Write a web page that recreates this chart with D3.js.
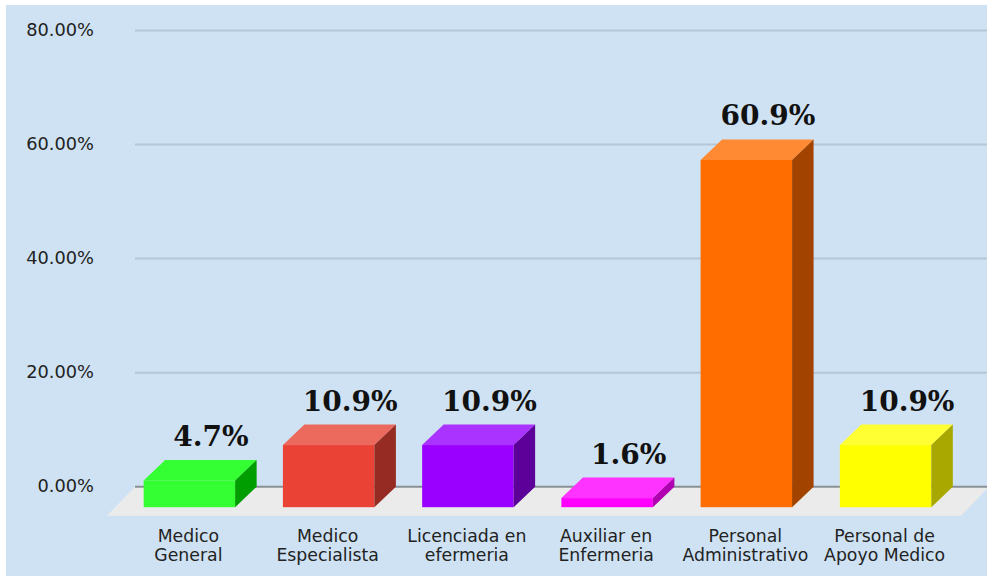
<!DOCTYPE html>
<html>
<head>
<meta charset="utf-8">
<script src="https://cdn.jsdelivr.net/npm/d3@7"></script>
<style>
  html, body { margin: 0; padding: 0; background: #ffffff; }
  svg { display: block; }
</style>
</head>
<body>
<svg id="chart" width="987" height="576"></svg>
<script>
// ---- data ----
const categories = ["Medico General", "Medico Especialista", "Licenciada en efermeria",
                    "Auxiliar en Enfermeria", "Personal Administrativo", "Personal de Apoyo Medico"];
const categoryLines = [["Medico", "General"], ["Medico", "Especialista"], ["Licenciada en", "efermeria"],
                       ["Auxiliar en", "Enfermeria"], ["Personal", "Administrativo"], ["Personal de", "Apoyo Medico"]];
const values = [4.7, 10.9, 10.9, 1.6, 60.9, 10.9];
const valueLabels = ["4.7%", "10.9%", "10.9%", "1.6%", "60.9%", "10.9%"];
const yTicks = [0, 20, 40, 60, 80];
const barColors = ["#33ff33", "#ea4335", "#9900ff", "#ff00ff", "#ff6d00", "#ffff00"];
const topColors = ["#33ff33", "#ec6a5d", "#aa33ff", "#ff33ff", "#ff8a33", "#ffff33"];
const sideColors = ["#009e00", "#952b23", "#5c0099", "#b000b0", "#a34300", "#a8a800"];

// ---- layout ----
const W = 987, H = 576;
const depthX = 21.5, depthY = 20.5;   // bar 3D offset (front is down-left of back)
const svg = d3.select("#chart");

const y = d3.scaleLinear().domain([0, 80]).range([486.7, 30.5]); // back plane
const x = d3.scaleBand().domain(categories).range([120, 955])
  .paddingInner(0.343).paddingOuter(0.17);                      // front plane

// background
svg.append("rect").attr("x", 6).attr("y", 5).attr("width", W - 6).attr("height", H - 5)
  .attr("fill", "#cfe2f3");

// gridlines
svg.append("g").selectAll("line").data(yTicks.filter(d => d !== 0)).join("line")
  .attr("x1", 135).attr("x2", W)
  .attr("y1", d => y(d)).attr("y2", d => y(d))
  .attr("stroke", "#b5c6d6").attr("stroke-width", 2);

// floor
const fy0 = y(0), fDepthX = 28, fDepthY = 29;
svg.append("path")
  .attr("d", `M135,${fy0} L${W + 2},${fy0} L${W + 2 - fDepthX},${fy0 + fDepthY} L${135 - fDepthX},${fy0 + fDepthY} Z`)
  .attr("fill", "#ebebeb");

// zero line
svg.append("line").attr("x1", 135).attr("x2", W).attr("y1", fy0).attr("y2", fy0)
  .attr("stroke", "#8a9096").attr("stroke-width", 2);

// bars
const bars = svg.append("g").selectAll("g").data(categories).join("g");
bars.each(function (c, i) {
  const g = d3.select(this);
  const xl = x(c), xr = xl + x.bandwidth();
  const yb = y(0) + depthY;           // front bottom
  const yt = y(values[i]) + depthY;   // front top
  // front
  g.append("rect").attr("x", xl).attr("y", yt).attr("width", xr - xl).attr("height", yb - yt)
    .attr("fill", barColors[i]);
  // top
  g.append("path")
    .attr("d", `M${xl},${yt} L${xl + depthX},${yt - depthY} L${xr + depthX},${yt - depthY} L${xr},${yt} Z`)
    .attr("fill", topColors[i]);
  // side
  g.append("path")
    .attr("d", `M${xr},${yt} L${xr + depthX},${yt - depthY} L${xr + depthX},${yb - depthY} L${xr},${yb} Z`)
    .attr("fill", sideColors[i]);
});

// value labels
svg.append("g").selectAll("text").data(categories).join("text")
  .attr("x", (c) => x(c) + x.bandwidth() / 2 + depthX)
  .attr("y", (c, i) => y(values[i]) - 14)
  .attr("text-anchor", "middle")
  .attr("font-family", "'DejaVu Serif', serif")
  .attr("font-weight", "bold")
  .attr("font-size", 28)
  .attr("fill", "#111")
  .text((c, i) => valueLabels[i]);

// category labels
const cl = svg.append("g").selectAll("text").data(categories).join("text")
  .attr("x", c => x(c) + x.bandwidth() / 2 - 1)
  .attr("y", 541.5)
  .attr("text-anchor", "middle")
  .attr("font-family", "'DejaVu Sans', sans-serif")
  .attr("font-size", 17.3)
  .attr("fill", "#222");
cl.selectAll("tspan").data((c, i) => categoryLines[i].map(t => ({ t, c }))).join("tspan")
  .attr("x", d => x(d.c) + x.bandwidth() / 2 - 1)
  .attr("dy", (d, j) => j === 0 ? 0 : 19.5)
  .text(d => d.t);

// y axis tick labels
const yAxis = d3.axisLeft(y).tickValues(yTicks).tickSize(0).tickPadding(0)
  .tickFormat(d => d3.format(".2f")(d) + "%");
const ya = svg.append("g").attr("transform", "translate(94,0)").call(yAxis);
ya.select(".domain").remove();
ya.selectAll("text")
  .attr("font-family", "'DejaVu Sans', sans-serif")
  .attr("font-size", 17.8)
  .attr("fill", "#222")
  .attr("dy", "0.27em");
</script>
</body>
</html>
